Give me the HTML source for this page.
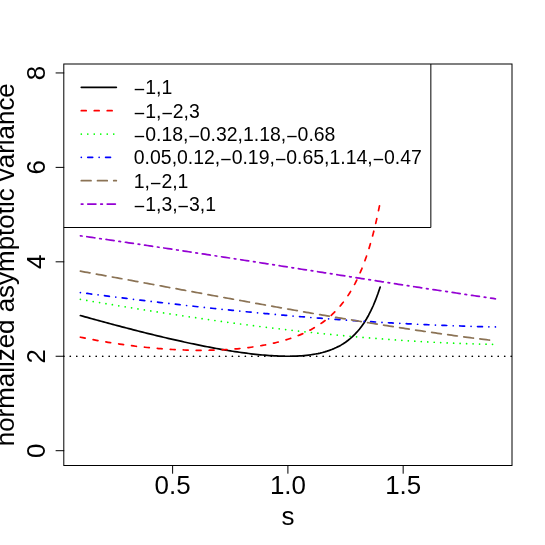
<!DOCTYPE html>
<html><head><meta charset="utf-8"><title>plot</title>
<style>html,body{margin:0;padding:0;background:#fff;width:545px;height:545px;overflow:hidden}body{position:relative;font-family:"Liberation Sans",sans-serif}</style></head>
<body>
<svg width="545" height="545" viewBox="0 0 545 545" style="position:absolute;left:0;top:0;will-change:transform;font-family:'Liberation Sans',sans-serif">
<rect x="0" y="0" width="545" height="545" fill="#fff"/>
<path d="M63.80,227.50L430.85,227.50L430.85,64.00" fill="none" stroke="#000" stroke-width="1.000" stroke-linejoin="miter"/>
<path d="M81.31,87.34L116.32,87.34" stroke="#000000" stroke-width="1.718" stroke-linecap="round" fill="none"/>
<text x="133.82" y="94.30" font-size="19.451" fill="#000"><tspan dy="2.10">−</tspan><tspan dy="-2.10">1,1</tspan></text>
<path d="M81.31,110.68L116.32,110.68" stroke="#FF0000" stroke-width="1.718" stroke-linecap="round" fill="none" stroke-dasharray="4.863,8.104"/>
<text x="133.82" y="117.64" font-size="19.451" fill="#000"><tspan dy="2.10">−</tspan><tspan dy="-2.10">1,</tspan><tspan dy="2.10">−</tspan><tspan dy="-2.10">2,3</tspan></text>
<path d="M81.31,134.02L116.32,134.02" stroke="#00FF00" stroke-width="1.718" stroke-linecap="round" fill="none" stroke-dasharray="0.000,6.484"/>
<text x="133.82" y="140.98" font-size="19.451" fill="#000"><tspan dy="2.10">−</tspan><tspan dy="-2.10">0.18,</tspan><tspan dy="2.10">−</tspan><tspan dy="-2.10">0.32,1.18,</tspan><tspan dy="2.10">−</tspan><tspan dy="-2.10">0.68</tspan></text>
<path d="M81.31,157.36L116.32,157.36" stroke="#0000FF" stroke-width="1.718" stroke-linecap="round" fill="none" stroke-dasharray="0.000,6.484,4.863,6.484"/>
<text x="133.82" y="164.33" font-size="19.451" fill="#000"><tspan dy="-0.00">0.05,0.12,</tspan><tspan dy="2.10">−</tspan><tspan dy="-2.10">0.19,</tspan><tspan dy="2.10">−</tspan><tspan dy="-2.10">0.65,1.14,</tspan><tspan dy="2.10">−</tspan><tspan dy="-2.10">0.47</tspan></text>
<path d="M81.31,180.70L116.32,180.70" stroke="#8B7355" stroke-width="1.718" stroke-linecap="round" fill="none" stroke-dasharray="9.725,6.484"/>
<text x="133.82" y="187.67" font-size="19.451" fill="#000"><tspan dy="-0.00">1,</tspan><tspan dy="2.10">−</tspan><tspan dy="-2.10">2,1</tspan></text>
<path d="M81.31,204.04L116.32,204.04" stroke="#9400D3" stroke-width="1.718" stroke-linecap="round" fill="none" stroke-dasharray="1.621,4.863,8.104,4.863"/>
<text x="133.82" y="211.01" font-size="19.451" fill="#000"><tspan dy="2.10">−</tspan><tspan dy="-2.10">1,3,</tspan><tspan dy="2.10">−</tspan><tspan dy="-2.10">3,1</tspan></text>
<path d="M80.40,315.53L82.71,316.17L85.01,316.81L87.32,317.45L89.62,318.09L91.93,318.72L94.23,319.35L96.54,319.99L98.84,320.62L101.15,321.24L103.46,321.87L105.76,322.49L108.07,323.11L110.37,323.73L112.68,324.35L114.98,324.97L117.29,325.58L119.59,326.19L121.90,326.80L124.20,327.40L126.51,328.00L128.82,328.60L131.12,329.20L133.43,329.80L135.73,330.39L138.04,330.98L140.34,331.56L142.65,332.14L144.95,332.72L147.26,333.30L149.57,333.87L151.87,334.44L154.18,335.00L156.48,335.56L158.79,336.12L161.09,336.67L163.40,337.22L165.70,337.77L168.01,338.31L170.32,338.85L172.62,339.38L174.93,339.91L177.23,340.43L179.54,340.95L181.84,341.46L184.15,341.97L186.45,342.48L188.76,342.97L191.07,343.47L193.37,343.95L195.68,344.44L197.98,344.91L200.29,345.38L202.59,345.85L204.90,346.30L207.20,346.75L209.51,347.20L211.82,347.64L214.12,348.07L216.43,348.49L218.73,348.91L221.04,349.31L223.34,349.71L225.65,350.10L227.95,350.49L230.26,350.86L232.56,351.23L234.87,351.58L237.18,351.93L239.48,352.27L241.79,352.60L244.09,352.91L246.40,353.22L248.70,353.51L251.01,353.79L253.31,354.06L255.62,354.32L257.93,354.56L260.23,354.80L262.54,355.01L264.84,355.21L267.15,355.40L269.45,355.57L271.76,355.72L274.06,355.86L276.37,355.98L278.68,356.08L280.98,356.16L283.29,356.21L285.59,356.25L287.90,356.26L290.20,356.25L292.51,356.21L294.81,356.14L297.12,356.05L299.43,355.92L301.73,355.77L304.04,355.57L306.34,355.35L308.65,355.08L310.95,354.77L313.26,354.41L315.56,354.01L317.87,353.56L320.17,353.05L322.48,352.48L324.79,351.85L327.09,351.15L329.40,350.38L331.70,349.52L334.01,348.58L336.31,347.53L338.62,346.39L340.92,345.13L343.23,343.74L345.54,342.22L347.84,340.54L350.15,338.69L352.45,336.66L354.76,334.43L357.06,331.96L359.37,329.25L361.67,326.25L363.98,322.94L366.29,319.28L368.59,315.23L370.90,310.73L373.20,305.75L375.51,300.20L377.81,294.03L380.12,287.16" stroke="#000000" stroke-width="1.718" stroke-linecap="round" stroke-linejoin="round" fill="none"/>
<path d="M80.40,337.24L82.71,337.71L85.01,338.17L87.32,338.62L89.62,339.06L91.93,339.49L94.23,339.92L96.54,340.34L98.84,340.75L101.15,341.16L103.46,341.55L105.76,341.94L108.07,342.32L110.37,342.69L112.68,343.05L114.98,343.41L117.29,343.75L119.59,344.09L121.90,344.42L124.20,344.75L126.51,345.06L128.82,345.36L131.12,345.66L133.43,345.95L135.73,346.23L138.04,346.50L140.34,346.76L142.65,347.02L144.95,347.26L147.26,347.50L149.57,347.72L151.87,347.94L154.18,348.15L156.48,348.35L158.79,348.54L161.09,348.72L163.40,348.89L165.70,349.06L168.01,349.21L170.32,349.35L172.62,349.49L174.93,349.61L177.23,349.73L179.54,349.83L181.84,349.93L184.15,350.01L186.45,350.09L188.76,350.15L191.07,350.20L193.37,350.24L195.68,350.28L197.98,350.30L200.29,350.31L202.59,350.30L204.90,350.29L207.20,350.27L209.51,350.23L211.82,350.18L214.12,350.12L216.43,350.05L218.73,349.96L221.04,349.86L223.34,349.75L225.65,349.62L227.95,349.48L230.26,349.32L232.56,349.15L234.87,348.97L237.18,348.77L239.48,348.56L241.79,348.32L244.09,348.08L246.40,347.81L248.70,347.53L251.01,347.23L253.31,346.91L255.62,346.57L257.93,346.21L260.23,345.82L262.54,345.42L264.84,345.00L267.15,344.55L269.45,344.07L271.76,343.58L274.06,343.05L276.37,342.50L278.68,341.91L280.98,341.30L283.29,340.65L285.59,339.98L287.90,339.26L290.20,338.51L292.51,337.72L294.81,336.88L297.12,336.01L299.43,335.08L301.73,334.11L304.04,333.08L306.34,331.99L308.65,330.85L310.95,329.64L313.26,328.36L315.56,327.01L317.87,325.58L320.17,324.06L322.48,322.45L324.79,320.74L327.09,318.92L329.40,316.98L331.70,314.92L334.01,312.72L336.31,310.37L338.62,307.85L340.92,305.15L343.23,302.26L345.54,299.14L347.84,295.79L350.15,292.18L352.45,288.28L354.76,284.06L357.06,279.48L359.37,274.51L361.67,269.11L363.98,263.22L366.29,256.79L368.59,249.76L370.90,242.06L373.20,233.61L375.51,224.31L377.81,214.08L380.12,202.78" stroke="#FF0000" stroke-width="1.718" stroke-linecap="round" stroke-linejoin="round" fill="none" stroke-dasharray="4.863,8.104"/>
<path d="M80.40,299.37L82.71,299.76L85.01,300.15L87.32,300.54L89.62,300.93L91.93,301.32L94.23,301.70L96.54,302.09L98.84,302.48L101.15,302.86L103.46,303.24L105.76,303.63L108.07,304.01L110.37,304.39L112.68,304.77L114.98,305.15L117.29,305.53L119.59,305.91L121.90,306.28L124.20,306.66L126.51,307.03L128.82,307.41L131.12,307.78L133.43,308.15L135.73,308.52L138.04,308.89L140.34,309.26L142.65,309.63L144.95,309.99L147.26,310.36L149.57,310.72L151.87,311.08L154.18,311.45L156.48,311.81L158.79,312.17L161.09,312.52L163.40,312.88L165.70,313.24L168.01,313.59L170.32,313.94L172.62,314.29L174.93,314.64L177.23,314.99L179.54,315.34L181.84,315.69L184.15,316.03L186.45,316.38L188.76,316.72L191.07,317.06L193.37,317.40L195.68,317.73L197.98,318.07L200.29,318.41L202.59,318.74L204.90,319.07L207.20,319.40L209.51,319.73L211.82,320.06L214.12,320.38L216.43,320.71L218.73,321.03L221.04,321.35L223.34,321.67L225.65,321.99L227.95,322.30L230.26,322.62L232.56,322.93L234.87,323.24L237.18,323.55L239.48,323.85L241.79,324.16L244.09,324.46L246.40,324.76L248.70,325.06L251.01,325.36L253.31,325.66L255.62,325.95L257.93,326.25L260.23,326.54L262.54,326.83L264.84,327.11L267.15,327.40L269.45,327.68L271.76,327.96L274.06,328.24L276.37,328.52L278.68,328.80L280.98,329.07L283.29,329.34L285.59,329.61L287.90,329.88L290.20,330.14L292.51,330.41L294.81,330.67L297.12,330.93L299.43,331.19L301.73,331.44L304.04,331.69L306.34,331.94L308.65,332.19L310.95,332.44L313.26,332.68L315.56,332.93L317.87,333.17L320.17,333.41L322.48,333.64L324.79,333.87L327.09,334.11L329.40,334.34L331.70,334.56L334.01,334.79L336.31,335.01L338.62,335.23L340.92,335.45L343.23,335.66L345.54,335.88L347.84,336.09L350.15,336.30L352.45,336.50L354.76,336.71L357.06,336.91L359.37,337.11L361.67,337.31L363.98,337.50L366.29,337.69L368.59,337.88L370.90,338.07L373.20,338.26L375.51,338.44L377.81,338.62L380.12,338.80L382.42,338.97L384.73,339.15L387.04,339.32L389.34,339.49L391.65,339.65L393.95,339.81L396.26,339.98L398.56,340.13L400.87,340.29L403.17,340.44L405.48,340.59L407.79,340.74L410.09,340.89L412.40,341.03L414.70,341.17L417.01,341.31L419.31,341.45L421.62,341.58L423.92,341.71L426.23,341.84L428.53,341.96L430.84,342.08L433.15,342.20L435.45,342.32L437.76,342.44L440.06,342.55L442.37,342.66L444.67,342.76L446.98,342.87L449.28,342.97L451.59,343.07L453.90,343.16L456.20,343.26L458.51,343.35L460.81,343.44L463.12,343.52L465.42,343.60L467.73,343.68L470.03,343.76L472.34,343.83L474.65,343.91L476.95,343.97L479.26,344.04L481.56,344.10L483.87,344.16L486.17,344.22L488.48,344.27L490.78,344.33L493.09,344.37L495.40,344.42" stroke="#00FF00" stroke-width="1.718" stroke-linecap="round" stroke-linejoin="round" fill="none" stroke-dasharray="0.000,6.484"/>
<path d="M80.40,292.57L82.71,292.87L85.01,293.17L87.32,293.47L89.62,293.76L91.93,294.06L94.23,294.36L96.54,294.65L98.84,294.95L101.15,295.24L103.46,295.53L105.76,295.82L108.07,296.12L110.37,296.41L112.68,296.70L114.98,296.98L117.29,297.27L119.59,297.56L121.90,297.85L124.20,298.13L126.51,298.42L128.82,298.70L131.12,298.98L133.43,299.27L135.73,299.55L138.04,299.83L140.34,300.11L142.65,300.38L144.95,300.66L147.26,300.94L149.57,301.21L151.87,301.49L154.18,301.76L156.48,302.03L158.79,302.30L161.09,302.57L163.40,302.84L165.70,303.11L168.01,303.38L170.32,303.65L172.62,303.91L174.93,304.18L177.23,304.44L179.54,304.70L181.84,304.96L184.15,305.22L186.45,305.48L188.76,305.74L191.07,305.99L193.37,306.25L195.68,306.50L197.98,306.75L200.29,307.00L202.59,307.25L204.90,307.50L207.20,307.75L209.51,308.00L211.82,308.24L214.12,308.49L216.43,308.73L218.73,308.97L221.04,309.21L223.34,309.45L225.65,309.69L227.95,309.92L230.26,310.16L232.56,310.39L234.87,310.62L237.18,310.86L239.48,311.09L241.79,311.31L244.09,311.54L246.40,311.77L248.70,311.99L251.01,312.21L253.31,312.43L255.62,312.65L257.93,312.87L260.23,313.09L262.54,313.31L264.84,313.52L267.15,313.73L269.45,313.94L271.76,314.15L274.06,314.36L276.37,314.57L278.68,314.78L280.98,314.98L283.29,315.18L285.59,315.38L287.90,315.58L290.20,315.78L292.51,315.98L294.81,316.17L297.12,316.37L299.43,316.56L301.73,316.75L304.04,316.94L306.34,317.13L308.65,317.31L310.95,317.50L313.26,317.68L315.56,317.86L317.87,318.04L320.17,318.22L322.48,318.39L324.79,318.57L327.09,318.74L329.40,318.91L331.70,319.08L334.01,319.25L336.31,319.42L338.62,319.59L340.92,319.75L343.23,319.91L345.54,320.07L347.84,320.23L350.15,320.39L352.45,320.54L354.76,320.70L357.06,320.85L359.37,321.00L361.67,321.15L363.98,321.30L366.29,321.44L368.59,321.59L370.90,321.73L373.20,321.87L375.51,322.01L377.81,322.15L380.12,322.28L382.42,322.42L384.73,322.55L387.04,322.68L389.34,322.81L391.65,322.94L393.95,323.07L396.26,323.19L398.56,323.31L400.87,323.43L403.17,323.55L405.48,323.67L407.79,323.79L410.09,323.90L412.40,324.01L414.70,324.13L417.01,324.23L419.31,324.34L421.62,324.45L423.92,324.55L426.23,324.66L428.53,324.76L430.84,324.86L433.15,324.95L435.45,325.05L437.76,325.15L440.06,325.24L442.37,325.33L444.67,325.42L446.98,325.51L449.28,325.59L451.59,325.68L453.90,325.76L456.20,325.84L458.51,325.92L460.81,326.00L463.12,326.08L465.42,326.15L467.73,326.22L470.03,326.30L472.34,326.37L474.65,326.43L476.95,326.50L479.26,326.57L481.56,326.63L483.87,326.69L486.17,326.75L488.48,326.81L490.78,326.87L493.09,326.92L495.40,326.98" stroke="#0000FF" stroke-width="1.718" stroke-linecap="round" stroke-linejoin="round" fill="none" stroke-dasharray="0.000,6.484,4.863,6.484"/>
<path d="M80.40,271.20L82.71,271.62L85.01,272.04L87.32,272.45L89.62,272.87L91.93,273.29L94.23,273.71L96.54,274.13L98.84,274.54L101.15,274.96L103.46,275.38L105.76,275.80L108.07,276.22L110.37,276.65L112.68,277.07L114.98,277.49L117.29,277.91L119.59,278.33L121.90,278.75L124.20,279.18L126.51,279.60L128.82,280.02L131.12,280.44L133.43,280.87L135.73,281.29L138.04,281.71L140.34,282.14L142.65,282.56L144.95,282.99L147.26,283.41L149.57,283.83L151.87,284.26L154.18,284.68L156.48,285.11L158.79,285.53L161.09,285.96L163.40,286.38L165.70,286.81L168.01,287.23L170.32,287.66L172.62,288.08L174.93,288.51L177.23,288.93L179.54,289.36L181.84,289.78L184.15,290.21L186.45,290.63L188.76,291.06L191.07,291.48L193.37,291.90L195.68,292.33L197.98,292.75L200.29,293.18L202.59,293.60L204.90,294.02L207.20,294.45L209.51,294.87L211.82,295.29L214.12,295.72L216.43,296.14L218.73,296.56L221.04,296.98L223.34,297.41L225.65,297.83L227.95,298.25L230.26,298.67L232.56,299.09L234.87,299.51L237.18,299.93L239.48,300.35L241.79,300.77L244.09,301.19L246.40,301.60L248.70,302.02L251.01,302.44L253.31,302.86L255.62,303.27L257.93,303.69L260.23,304.10L262.54,304.52L264.84,304.93L267.15,305.35L269.45,305.76L271.76,306.17L274.06,306.58L276.37,306.99L278.68,307.40L280.98,307.81L283.29,308.22L285.59,308.63L287.90,309.04L290.20,309.45L292.51,309.85L294.81,310.26L297.12,310.66L299.43,311.07L301.73,311.47L304.04,311.87L306.34,312.28L308.65,312.68L310.95,313.08L313.26,313.48L315.56,313.87L317.87,314.27L320.17,314.67L322.48,315.06L324.79,315.46L327.09,315.85L329.40,316.25L331.70,316.64L334.01,317.03L336.31,317.42L338.62,317.81L340.92,318.19L343.23,318.58L345.54,318.97L347.84,319.35L350.15,319.73L352.45,320.11L354.76,320.50L357.06,320.88L359.37,321.25L361.67,321.63L363.98,322.01L366.29,322.38L368.59,322.76L370.90,323.13L373.20,323.50L375.51,323.87L377.81,324.24L380.12,324.60L382.42,324.97L384.73,325.33L387.04,325.70L389.34,326.06L391.65,326.42L393.95,326.78L396.26,327.13L398.56,327.49L400.87,327.84L403.17,328.20L405.48,328.55L407.79,328.90L410.09,329.24L412.40,329.59L414.70,329.94L417.01,330.28L419.31,330.62L421.62,330.96L423.92,331.30L426.23,331.63L428.53,331.97L430.84,332.30L433.15,332.63L435.45,332.96L437.76,333.29L440.06,333.62L442.37,333.94L444.67,334.26L446.98,334.58L449.28,334.90L451.59,335.22L453.90,335.53L456.20,335.84L458.51,336.16L460.81,336.46L463.12,336.77L465.42,337.08L467.73,337.38L470.03,337.68L472.34,337.98L474.65,338.27L476.95,338.57L479.26,338.86L481.56,339.15L483.87,339.44L486.17,339.72L488.48,340.01L490.78,340.29L493.09,340.56L495.40,340.84" stroke="#8B7355" stroke-width="1.718" stroke-linecap="round" stroke-linejoin="round" fill="none" stroke-dasharray="9.725,6.484"/>
<path d="M80.40,235.79L82.71,236.11L85.01,236.44L87.32,236.77L89.62,237.10L91.93,237.43L94.23,237.76L96.54,238.09L98.84,238.42L101.15,238.76L103.46,239.09L105.76,239.42L108.07,239.76L110.37,240.09L112.68,240.43L114.98,240.76L117.29,241.10L119.59,241.43L121.90,241.77L124.20,242.11L126.51,242.45L128.82,242.79L131.12,243.13L133.43,243.46L135.73,243.81L138.04,244.15L140.34,244.49L142.65,244.83L144.95,245.17L147.26,245.51L149.57,245.86L151.87,246.20L154.18,246.54L156.48,246.89L158.79,247.23L161.09,247.58L163.40,247.92L165.70,248.27L168.01,248.62L170.32,248.96L172.62,249.31L174.93,249.66L177.23,250.01L179.54,250.36L181.84,250.71L184.15,251.05L186.45,251.40L188.76,251.75L191.07,252.11L193.37,252.46L195.68,252.81L197.98,253.16L200.29,253.51L202.59,253.86L204.90,254.22L207.20,254.57L209.51,254.92L211.82,255.27L214.12,255.63L216.43,255.98L218.73,256.34L221.04,256.69L223.34,257.05L225.65,257.40L227.95,257.76L230.26,258.11L232.56,258.47L234.87,258.82L237.18,259.18L239.48,259.54L241.79,259.89L244.09,260.25L246.40,260.61L248.70,260.97L251.01,261.32L253.31,261.68L255.62,262.04L257.93,262.40L260.23,262.76L262.54,263.11L264.84,263.47L267.15,263.83L269.45,264.19L271.76,264.55L274.06,264.91L276.37,265.27L278.68,265.63L280.98,265.99L283.29,266.35L285.59,266.71L287.90,267.07L290.20,267.43L292.51,267.79L294.81,268.15L297.12,268.51L299.43,268.87L301.73,269.23L304.04,269.59L306.34,269.95L308.65,270.31L310.95,270.67L313.26,271.03L315.56,271.39L317.87,271.75L320.17,272.11L322.48,272.47L324.79,272.83L327.09,273.19L329.40,273.55L331.70,273.91L334.01,274.27L336.31,274.63L338.62,274.99L340.92,275.35L343.23,275.71L345.54,276.07L347.84,276.42L350.15,276.78L352.45,277.14L354.76,277.50L357.06,277.86L359.37,278.22L361.67,278.58L363.98,278.93L366.29,279.29L368.59,279.65L370.90,280.01L373.20,280.37L375.51,280.72L377.81,281.08L380.12,281.44L382.42,281.79L384.73,282.15L387.04,282.50L389.34,282.86L391.65,283.22L393.95,283.57L396.26,283.93L398.56,284.28L400.87,284.63L403.17,284.99L405.48,285.34L407.79,285.70L410.09,286.05L412.40,286.40L414.70,286.75L417.01,287.10L419.31,287.46L421.62,287.81L423.92,288.16L426.23,288.51L428.53,288.86L430.84,289.21L433.15,289.56L435.45,289.91L437.76,290.25L440.06,290.60L442.37,290.95L444.67,291.30L446.98,291.64L449.28,291.99L451.59,292.33L453.90,292.68L456.20,293.02L458.51,293.37L460.81,293.71L463.12,294.05L465.42,294.40L467.73,294.74L470.03,295.08L472.34,295.42L474.65,295.76L476.95,296.10L479.26,296.44L481.56,296.78L483.87,297.11L486.17,297.45L488.48,297.79L490.78,298.12L493.09,298.46L495.40,298.79" stroke="#9400D3" stroke-width="1.718" stroke-linecap="round" stroke-linejoin="round" fill="none" stroke-dasharray="1.621,4.863,8.104,4.863"/>
<path d="M63.80,356.26L512.00,356.26" stroke="#000" stroke-width="1.718" stroke-linecap="round" fill="none" stroke-dasharray="0.000,6.484"/>
<rect x="63.80" y="64.00" width="448.20" height="401.50" fill="none" stroke="#000" stroke-width="1.000"/>
<path d="M172.62,465.50L172.62,473.28" stroke="#000" stroke-width="1.000" stroke-linecap="round"/>
<text x="172.62" y="493.51" font-size="25.934" text-anchor="middle" fill="#000">0.5</text>
<path d="M287.90,465.50L287.90,473.28" stroke="#000" stroke-width="1.000" stroke-linecap="round"/>
<text x="287.90" y="493.51" font-size="25.934" text-anchor="middle" fill="#000">1.0</text>
<path d="M403.17,465.50L403.17,473.28" stroke="#000" stroke-width="1.000" stroke-linecap="round"/>
<text x="403.17" y="493.51" font-size="25.934" text-anchor="middle" fill="#000">1.5</text>
<path d="M63.80,450.70L56.02,450.70" stroke="#000" stroke-width="1.000" stroke-linecap="round"/>
<text transform="translate(45.13,450.70) rotate(-90)" font-size="25.934" text-anchor="middle" fill="#000">0</text>
<path d="M63.80,356.26L56.02,356.26" stroke="#000" stroke-width="1.000" stroke-linecap="round"/>
<text transform="translate(45.13,356.26) rotate(-90)" font-size="25.934" text-anchor="middle" fill="#000">2</text>
<path d="M63.80,261.82L56.02,261.82" stroke="#000" stroke-width="1.000" stroke-linecap="round"/>
<text transform="translate(45.13,261.82) rotate(-90)" font-size="25.934" text-anchor="middle" fill="#000">4</text>
<path d="M63.80,167.38L56.02,167.38" stroke="#000" stroke-width="1.000" stroke-linecap="round"/>
<text transform="translate(45.13,167.38) rotate(-90)" font-size="25.934" text-anchor="middle" fill="#000">6</text>
<path d="M63.80,72.94L56.02,72.94" stroke="#000" stroke-width="1.000" stroke-linecap="round"/>
<text transform="translate(45.13,72.94) rotate(-90)" font-size="25.934" text-anchor="middle" fill="#000">8</text>
<text x="287.90" y="524.63" font-size="25.934" text-anchor="middle" fill="#000">s</text>
<text transform="translate(14.41,264.75) rotate(-90)" font-size="25.934" text-anchor="middle" fill="#000">normalized asymptotic variance</text>
</svg>
</body></html>
